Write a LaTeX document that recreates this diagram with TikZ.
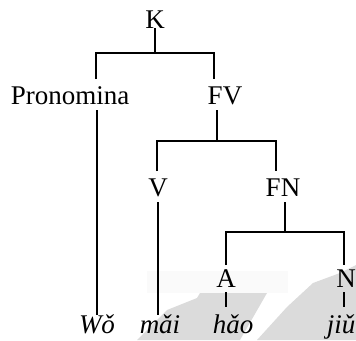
\documentclass[tikz,border=0pt]{standalone}
\usepackage{fontspec}
\setmainfont{Liberation Serif}
\begin{document}
\begin{tikzpicture}[x=1pt,y=-1pt,
  lbl/.style={inner sep=0pt,font=\fontsize{27}{31}\selectfont},
  word/.style={lbl,font=\fontsize{27}{31}\selectfont\itshape},
  br/.style={line width=1.3pt}]
\useasboundingbox (0,0) rectangle (356,340);
% faint background shading in the lower right
\fill[black!2] (147,271) -- (288,271) -- (288,293) -- (147,293) -- cycle;
\fill[black!14] (137,340) -- (167,310) -- (197,298) -- (200,293) -- (267,293) -- (240,340) -- cycle;
\fill[black!14] (257,340) -- (287,307) -- (313,283) -- (340,273) -- (356,265) -- (356,340) -- cycle;
% labels
\node[lbl,anchor=base] (K) at (155,28) {K};
\node[lbl,anchor=base] (P) at (70,104) {Pronomina};
\node[lbl,anchor=base] (FV) at (225,104) {FV};
\node[lbl,anchor=base] (V) at (158,196) {V};
\node[lbl,anchor=base] (FN) at (283,196) {FN};
\node[lbl,anchor=base] (A) at (226,287) {A};
\node[lbl,anchor=base] (N) at (346,287) {N};
\node[word,anchor=base] (w1) at (97,333) {Wǒ};
\node[word,anchor=base] (w2) at (160,333) {mǎi};
\node[word,anchor=base] (w3) at (233,333) {hǎo};
\node[word,anchor=base] (w4) at (341,333) {jiǔ};
% branching
\coordinate (k0) at (155,53);
\draw[br] (K.south -| k0) -- (k0);
\draw[br] (96,79) -- (96,53) -- (214,53) -- (214,79);
\coordinate (fv0) at (217,141);
\draw[br] (fv0 |- 0,110) -- (fv0);
\draw[br] (157,171) -- (157,141) -- (276,141) -- (276,171);
\coordinate (fn0) at (285,232);
\draw[br] (fn0 |- 0,202) -- (fn0);
\draw[br] (226,265) -- (226,232) -- (344,232) -- (344,265);
% leaves
\draw[br] (97,110) -- (97,315);
\draw[br] (158,202) -- (158,315);
\draw[br] (226,292) -- (226,307);
\draw[br] (344,292) -- (344,307);
\end{tikzpicture}
\end{document}
